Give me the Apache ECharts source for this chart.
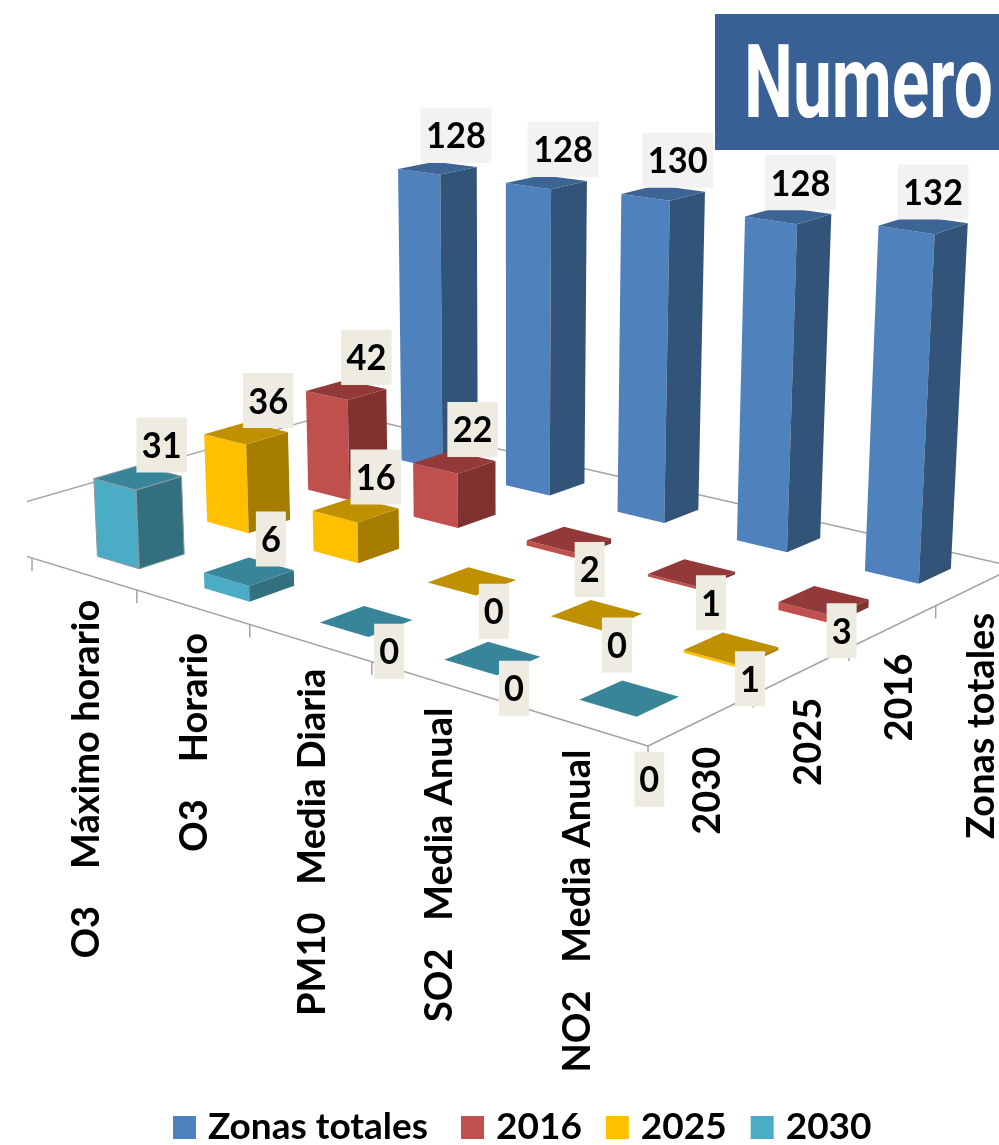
<!DOCTYPE html>
<html><head><meta charset="utf-8">
<style>html,body{margin:0;padding:0;background:#fff}#c{width:999px;height:1145px}</style>
<script src="https://cdn.jsdelivr.net/npm/echarts@6/dist/echarts.min.js"></script>
</head><body><div id="c"></div>
<script>
const categories = ['O3    Máximo horario','O3    Horario','PM10   Media Diaria','SO2   Media Anual','NO2   Media Anual'];
const rows = ['2030','2025','2016','Zonas totales'];
const zonasTotales = [128,128,130,128,132];
const v2016 = [42,22,2,1,3];
const v2025 = [36,16,0,0,1];
const v2030 = [31,6,0,0,0];
const titleText = 'Numero';

const seriesDefs = [
  {name:'Zonas totales', row:3, values:zonasTotales, front:'#4F81BD', side:'#335479', top:'#3C6596'},
  {name:'2016', row:2, values:v2016, front:'#C0504D', side:'#7F3230', top:'#93393A'},
  {name:'2025', row:1, values:v2025, front:'#FFC000', side:'#A67D00', top:'#BF9000'},
  {name:'2030', row:0, values:v2030, front:'#4BACC6', side:'#33707F', top:'#388499'}
];

// perspective projection of the chart floor (u: category, v: row) and heights
const Q = [[32,558],[648,746],[1015,567],[433,434]];
const H = (function(){
  const [p0,p1,p2,p3]=Q;
  const dx1=p1[0]-p2[0],dx2=p3[0]-p2[0],sx=p0[0]-p1[0]+p2[0]-p3[0];
  const dy1=p1[1]-p2[1],dy2=p3[1]-p2[1],sy=p0[1]-p1[1]+p2[1]-p3[1];
  const den=dx1*dy2-dx2*dy1;
  const g=(sx*dy2-dx2*sy)/den,h=(dx1*sy-sx*dy1)/den;
  return {a:p1[0]-p0[0]+g*p1[0],b:p3[0]-p0[0]+h*p3[0],c:p0[0],
          d:p1[1]-p0[1]+g*p1[1],e:p3[1]-p0[1]+h*p3[1],f:p0[1],g,h};
})();
function floorPt(u,v){
  const s=u/5,t=v/4,w=H.g*s+H.h*t+1;
  return [(H.a*s+H.b*t+H.c)/w,(H.d*s+H.e*t+H.f)/w];
}
function proj(u,v,val){
  const b=floorPt(u,v);
  const px=val*(2.51+0.085*(u-0.5)-0.078*(v-0.5));
  return [b[0]+(b[0]-510)*px/9000,b[1]-px];
}
const HALF=0.2;

function poly(api,pts,fill,extra){
  return {type:'polygon',shape:{points:pts.map(p=>api.coord(p))},
    style:Object.assign({fill:fill},extra||{})};
}
function barRenderer(def){
  return function(params,api){
    const i=api.value(0),j=api.value(1),val=api.value(2);
    const u=i+0.5,v=j+0.5;
    const lb=proj(u-HALF,v-HALF,0),fb=proj(u+HALF,v-HALF,0),rb=proj(u+HALF,v+HALF,0);
    const lt=proj(u-HALF,v-HALF,val),ft=proj(u+HALF,v-HALF,val),rt=proj(u+HALF,v+HALF,val),bt=proj(u-HALF,v+HALF,val);
    const edged=(def.row===0&&i===0)?{stroke:'#8C9BA1',lineWidth:1}:null;
    const kids=[];
    if(val>0){
      kids.push(poly(api,[lb,fb,ft,lt],def.front,edged));
      kids.push(poly(api,[fb,rb,rt,ft],def.side,edged));
    }
    kids.push(poly(api,[lt,ft,rt,bt],def.top,edged));
    return {type:'group',children:kids};
  };
}
const FONT='bold 38px Lato';
function frameRenderer(params,api){
  const kids=[];
  const line=(a,b)=>{
    const p=api.coord(a),q=api.coord(b);
    kids.push({type:'line',shape:{x1:p[0],y1:p[1],x2:q[0],y2:q[1]},style:{stroke:'#A3A3A3',lineWidth:1.5}});
  };
  const uMin=-1,uMax=categories.length,vMax=rows.length;
  line(floorPt(uMin,vMax),floorPt(uMin,0));
  line(floorPt(uMin,vMax),floorPt(uMax,vMax));
  line(floorPt(uMin,0),floorPt(uMax,0));
  line(floorPt(uMax,0),floorPt(uMax,vMax));
  for(let u=0;u<=uMax;u++){const p=floorPt(u,0);line(p,[p[0],p[1]+13]);}
  for(let v=1;v<=vMax;v++){const p=floorPt(uMax,v);line(p,[p[0],p[1]+13]);}
  return {type:'group',children:kids};
}
function axisLabelRenderer(params,api){
  const kind=api.value(0),idx=api.value(1);
  const p=kind===0?floorPt(idx+0.5,0):floorPt(categories.length,idx+0.5);
  const c=api.coord(kind===0?[p[0]+3,p[1]+26]:[p[0]+6,p[1]+27]);
  return {type:'text',x:c[0],y:c[1],rotation:Math.PI/2,
    style:{text:kind===0?categories[idx]:rows[idx],font:FONT,fill:'#000',align:'right',verticalAlign:'middle'}};
}
function valueLabelRenderer(params,api){
  const i=api.value(0),j=api.value(1),val=api.value(2);
  const u=i+0.5,v=j+0.5;
  const l=proj(u-HALF,v-HALF,val),r=proj(u+HALF,v+HALF,val);
  const cx=(l[0]+r[0])/2,cy=(l[1]+r[1])/2;
  const small=val<=3;
  const dx=small?27-0.011*cx:26.5-0.018*cx;
  let dy=small?30:-32.5;
  if(i===4&&j===0) dy=81;
  const c=api.coord([cx+dx,cy+dy]);
  const txt=String(val),w=9.5+20.5*txt.length,h=55;
  return {type:'group',children:[
    {type:'rect',shape:{x:c[0]-w/2,y:c[1]-h/2,width:w,height:h},style:{fill:j===3?'#F2F2F2':'#EEECE1'}},
    {type:'text',x:c[0],y:c[1]+1,scaleX:0.93,style:{text:txt,font:'bold 37px Lato',fill:'#000',align:'center',verticalAlign:'middle'}}
  ]};
}

const series=[{type:'custom',name:'frame',silent:true,clip:true,data:[[0,0,0]],renderItem:frameRenderer}];
seriesDefs.forEach(def=>{
  series.push({type:'custom',name:def.name,clip:true,itemStyle:{color:def.front},
    data:def.values.map((val,i)=>[i,def.row,val]),renderItem:barRenderer(def)});
});
const labelData=[];
seriesDefs.forEach(def=>def.values.forEach((val,i)=>labelData.push([i,def.row,val])));
series.push({type:'custom',name:'ejes',silent:true,clip:false,
  data:categories.map((c,i)=>[0,i,0]).concat(rows.map((r,i)=>[1,i,0])),renderItem:axisLabelRenderer});
series.push({type:'custom',name:'valores',silent:true,clip:false,data:labelData,renderItem:valueLabelRenderer});

const chart=echarts.init(document.getElementById('c'),null,{renderer:'canvas'});
chart.setOption({
  animation:false,
  backgroundColor:'#fff',
  grid:{left:27,right:0,top:0,bottom:0},
  xAxis:{type:'value',min:27,max:999,show:false},
  yAxis:{type:'value',min:0,max:1145,inverse:true,show:false},
  legend:{data:seriesDefs.map(d=>d.name),left:173,top:1109,padding:0,itemWidth:23,itemHeight:23,itemGap:24,icon:'rect',
    selectedMode:false,formatter:n=>n===rows[3]?n+' ':n,
    textStyle:{fontFamily:'Lato',fontWeight:'bold',fontSize:37,color:'#000',padding:[0,0,0,7]}},
  graphic:[
    {type:'rect',left:715,top:14,shape:{width:284,height:136},style:{fill:'#386094'},z:10},
    {type:'text',x:744,y:91,scaleX:0.68,z:11,style:{text:titleText,font:'bold 102px Roboto',fill:'#fff',verticalAlign:'middle'}}
  ],
  series:series
});
</script></body></html>
